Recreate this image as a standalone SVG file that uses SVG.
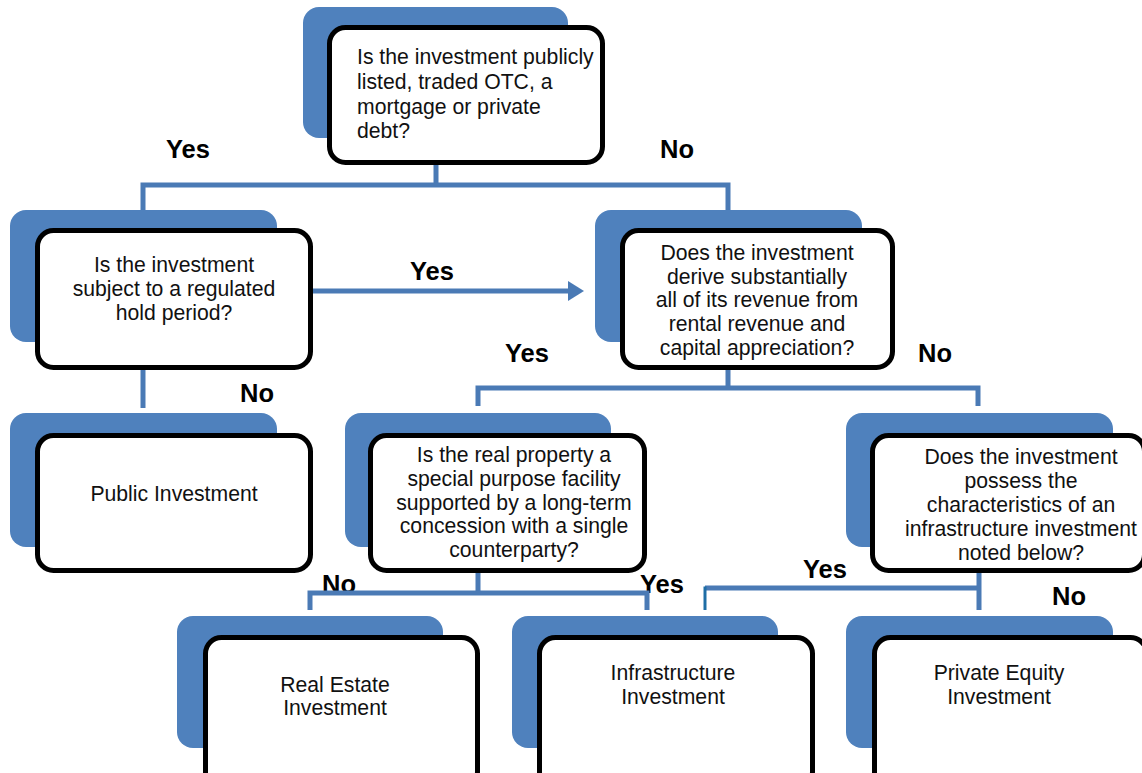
<svg xmlns="http://www.w3.org/2000/svg" width="1142" height="773" viewBox="0 0 1142 773">
<style>
.back{fill:#4F81BD;}
.front{fill:#fff;stroke:#000;stroke-width:5;}
.t{font-family:"Liberation Sans",Arial,sans-serif;font-size:21.2px;fill:#111;}
.c{text-anchor:middle;}
.lbl{font-family:"Liberation Sans",Arial,sans-serif;font-size:25.5px;font-weight:bold;fill:#000;}
.ln{stroke:#4A7AB5;stroke-width:5;fill:none;}
</style>
<defs>
<marker id="arr" markerWidth="4" markerHeight="4" refX="0" refY="2" orient="auto" markerUnits="strokeWidth">
<path d="M0,0 L3.2,2 L0,4 Z" fill="#4A7AB5"/>
</marker>
</defs>
<rect width="1142" height="773" fill="#fff"/>

<g id="labels">
<text class="lbl" x="166" y="158">Yes</text>
<text class="lbl" x="660" y="158">No</text>
<text class="lbl" x="410" y="280">Yes</text>
<text class="lbl" x="240" y="402">No</text>
<text class="lbl" x="505" y="362">Yes</text>
<text class="lbl" x="918" y="362">No</text>
<text class="lbl" x="322" y="593">No</text>
<text class="lbl" x="640" y="593">Yes</text>
<text class="lbl" x="803" y="578">Yes</text>
<text class="lbl" x="1052" y="605">No</text>
</g>

<g id="connectors">
<path class="ln" d="M436,165 V185 M140.5,185 H730.5 M143,185 V210 M728,185 V210"/>
<path class="ln" d="M143,370 V408"/>
<path class="ln" d="M313,291 H568" marker-end="url(#arr)"/>
<path class="ln" d="M728,370 V388 M475.5,388 H980.5 M478,388 V406 M978,388 V406"/>
<path class="ln" d="M478,573 V593 M307.5,593 H649.5 M310,593 V610 M647,593 V610"/>
<path class="ln" d="M979,573 V610 M705,588 H979"/>
<path d="M705,586.5 V610" stroke="#1F6EA6" stroke-width="3" fill="none"/>
</g>

<g id="n-top">
<rect class="back" x="303" y="7" width="265" height="131" rx="16"/>
<rect class="front" x="329.5" y="27.5" width="273" height="135" rx="16"/>
<text class="t" x="357" y="64">Is the investment publicly</text>
<text class="t" x="357" y="89">listed, traded OTC, a</text>
<text class="t" x="357" y="114">mortgage or private</text>
<text class="t" x="357" y="138">debt?</text>
</g>

<g id="n-regulated">
<rect class="back" x="10" y="210" width="267" height="132" rx="16"/>
<rect class="front" x="37.5" y="230.5" width="273" height="137" rx="16"/>
<text class="t c" x="174" y="272">Is the investment</text>
<text class="t c" x="174" y="296">subject to a regulated</text>
<text class="t c" x="174" y="320">hold period?</text>
</g>

<g id="n-derive">
<rect class="back" x="595" y="210" width="267" height="132" rx="16"/>
<rect class="front" x="622.5" y="230.5" width="270" height="137" rx="16"/>
<text class="t c" x="757" y="260">Does the investment</text>
<text class="t c" x="757" y="284">derive substantially</text>
<text class="t c" x="757" y="307">all of its revenue from</text>
<text class="t c" x="757" y="331">rental revenue and</text>
<text class="t c" x="757" y="355">capital appreciation?</text>
</g>

<g id="n-public">
<rect class="back" x="10" y="413" width="267" height="134" rx="16"/>
<rect class="front" x="37.5" y="435.5" width="273" height="135" rx="16"/>
<text class="t c" x="174" y="501">Public Investment</text>
</g>

<g id="n-realprop">
<rect class="back" x="345" y="413" width="266" height="134" rx="16"/>
<rect class="front" x="370.5" y="435.5" width="274" height="135" rx="16"/>
<text class="t c" x="514" y="462">Is the real property a</text>
<text class="t c" x="514" y="486">special purpose facility</text>
<text class="t c" x="514" y="510">supported by a long-term</text>
<text class="t c" x="514" y="533">concession with a single</text>
<text class="t c" x="514" y="557">counterparty?</text>
</g>

<g id="n-possess">
<rect class="back" x="846" y="413" width="267" height="134" rx="16"/>
<rect class="front" x="872.5" y="435.5" width="272" height="135" rx="16"/>
<text class="t c" x="1021" y="464">Does the investment</text>
<text class="t c" x="1021" y="488">possess the</text>
<text class="t c" x="1021" y="512">characteristics of an</text>
<text class="t c" x="1021" y="536">infrastructure investment</text>
<text class="t c" x="1021" y="560">noted below?</text>
</g>

<g id="n-realestate">
<rect class="back" x="177" y="616" width="266" height="132" rx="16"/>
<rect class="front" x="205.5" y="637.5" width="272" height="150" rx="16"/>
<text class="t c" x="335" y="692">Real Estate</text>
<text class="t c" x="335" y="715">Investment</text>
</g>

<g id="n-infra">
<rect class="back" x="512" y="616" width="266" height="132" rx="16"/>
<rect class="front" x="539.5" y="637.5" width="273" height="150" rx="16"/>
<text class="t c" x="673" y="680">Infrastructure</text>
<text class="t c" x="673" y="704">Investment</text>
</g>

<g id="n-pe">
<rect class="back" x="846" y="616" width="267" height="132" rx="16"/>
<rect class="front" x="874.5" y="637.5" width="272" height="150" rx="16"/>
<text class="t c" x="999" y="680">Private Equity</text>
<text class="t c" x="999" y="704">Investment</text>
</g>
</svg>
